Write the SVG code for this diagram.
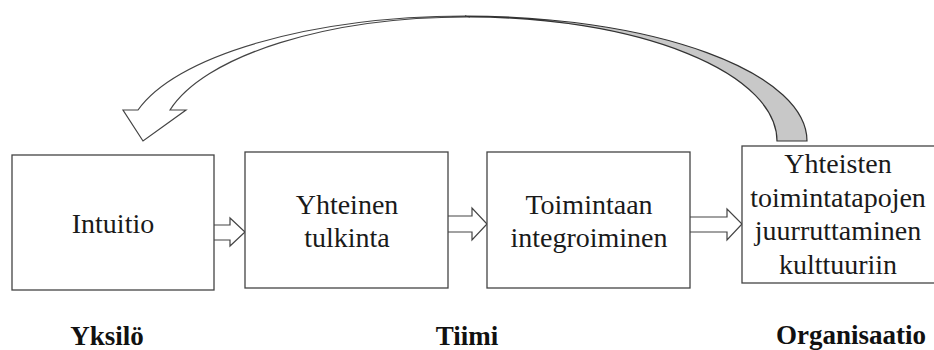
<svg xmlns="http://www.w3.org/2000/svg" width="934" height="350" viewBox="0 0 934 350">
<style>
.box{fill:#fff;stroke:#444;stroke-width:1.3}
.arr{fill:#fff;stroke:#444;stroke-width:1.2;stroke-linejoin:miter}
.t{font-family:'Liberation Serif','Times New Roman',Tinos,'DejaVu Serif',serif;font-size:28px;fill:#1a1a1a;text-anchor:middle}
.lb{font-family:'Liberation Serif','Times New Roman',Tinos,'DejaVu Serif',serif;font-size:27px;font-weight:bold;fill:#111;text-anchor:middle}
</style>
<rect width="934" height="350" fill="#fff"/>
<g id="connectors">
<path class="arr" d="M465,16 A342,125 0 0 0 138,110 L123,110 L143,141 L186,110 L170,110 A307,124 0 0 1 470,17 Z"/>
<path d="M465,16 A342,125 0 0 1 807,141 L777,141 A307,124 0 0 0 470,17 Z" fill="#c8c8c8" stroke="#333" stroke-width="1.2"/>
<path class="arr" d="M214,225 H230 V218 L245,232 L230,246 V240 H214"/>
<path class="arr" d="M448,216 H472 V208 L487,224 L472,240 V232 H448"/>
<path class="arr" d="M690,217 H727 V209 L742,224 L727,240 V232 H690"/>
</g>
<g id="node1">
<rect class="box" x="12" y="155" width="202" height="135"/>
<text class="t" x="113" y="233" font-family="Liberation Serif, serif">Intuitio</text>
</g>
<g id="node2">
<rect class="box" x="245" y="152" width="203" height="136"/>
<text class="t" x="347" y="214">Yhteinen</text>
<text class="t" x="347" y="247">tulkinta</text>
</g>
<g id="node3">
<rect class="box" x="487" y="152" width="203" height="136"/>
<text class="t" x="589" y="214">Toimintaan</text>
<text class="t" x="589" y="247">integroiminen</text>
</g>
<g id="node4">
<rect class="box" x="742" y="146" width="196" height="137"/>
<text class="t" x="838" y="173">Yhteisten</text>
<text class="t" x="838" y="207">toimintatapojen</text>
<text class="t" x="838" y="240">juurruttaminen</text>
<text class="t" x="838" y="274">kulttuuriin</text>
</g>
<g id="labels">
<text class="lb" x="107" y="345">Yksilö</text>
<text class="lb" x="467" y="345">Tiimi</text>
<text class="lb" x="851" y="344">Organisaatio</text>
</g>
</svg>
